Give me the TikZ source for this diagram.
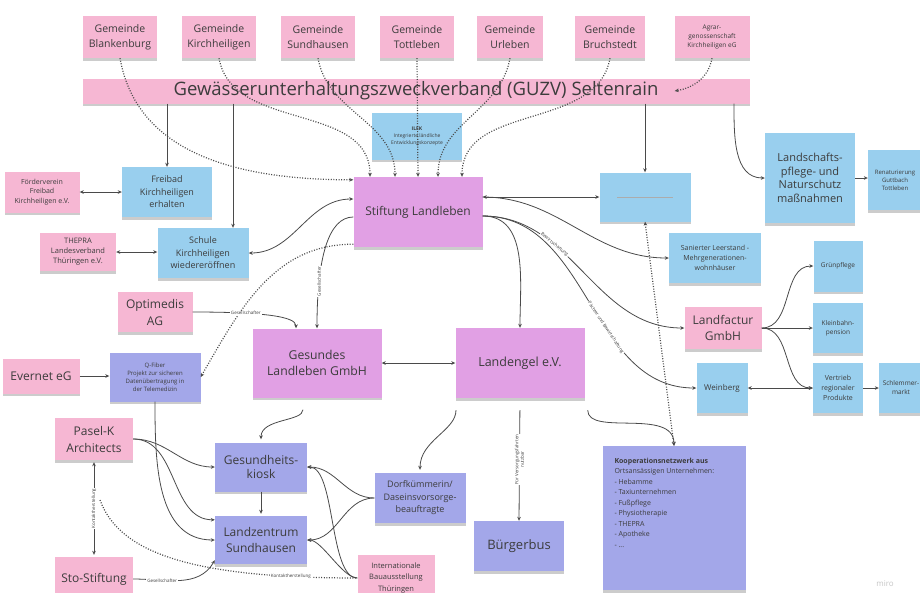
\documentclass[tikz,border=0pt]{standalone}
\usepackage{fontspec}
\setmainfont{Open Sans}
\usetikzlibrary{arrows.meta, positioning, shadows}

\definecolor{pinkfill}{HTML}{F6B7D3}
\definecolor{bluefill}{HTML}{99CFEE}
\definecolor{violetfill}{HTML}{E1A0E4}
\definecolor{perifill}{HTML}{A3A7E9}
\definecolor{txt}{HTML}{3C3C3C}
\definecolor{linec}{HTML}{4A4A4A}

\tikzset{
  fnt/.style 2 args={font=\fontsize{#1}{#2}\selectfont},
  card/.style={align=center, text=txt, inner sep=2pt,
    drop shadow={shadow xshift=0pt, shadow yshift=-2.5pt, opacity=0.4}},
  pinkcard/.style={card, fill=pinkfill},
  bluecard/.style={card, fill=bluefill},
  violetcard/.style={card, fill=violetfill},
  pericard/.style={card, fill=perifill},
  gem/.style={pinkcard, fnt={10.5}{15}, minimum width=74, minimum height=42},
  arr/.style={draw=linec, line width=0.8pt, ->},
  darr/.style={draw=linec, line width=0.8pt, <->},
  dots/.style={draw=linec, line width=1.2pt, dash pattern=on 1pt off 1.6pt, ->},
  ddots/.style={dots, <->},
  lbl/.style={fnt={4.5}{5.5}, text=txt, fill=white, inner sep=0.8pt},
}

\begin{document}
\begin{tikzpicture}[x=1pt, y=-1pt, >={Stealth[length=4pt,width=3.6pt]}]
  \useasboundingbox (0,0) rectangle (920,592);
  \fill[white] (0,0) rectangle (920,592);
  \clip (0,0) rectangle (920,592);

  % Gemeinden
  \node[gem] (blankenburg) at (120,37) {Gemeinde\\Blankenburg};
  \node[gem] (kirchheiligen) at (219,37) {Gemeinde\\Kirchheiligen};
  \node[gem] (sundhausen) at (318,37) {Gemeinde\\Sundhausen};
  \node[gem] (tottleben) at (417,37) {Gemeinde\\Tottleben};
  \node[gem, minimum width=66] (urleben) at (510,37) {Gemeinde\\Urleben};
  \node[gem, minimum width=70] (bruchstedt) at (610,37) {Gemeinde\\Bruchstedt};
  \node[pinkcard, fnt={6.5}{9}, minimum width=75, minimum height=42] (agrar) at (712,37) {Agrar-\\genossenschaft\\Kirchheiligen eG};

  % Zweckverband
  \node[pinkcard, fnt={18.5}{21}, minimum width=667, minimum height=25] (guzv) at (416,91) {Gewässerunterhaltungszweckverband (GUZV) Seltenrain};

  % obere Reihe
  \node[bluecard, fnt={5}{7}, minimum width=90, minimum height=47] (ilek) at (417,136) {\textbf{ILEK}\\Integrierte ländliche\\Entwicklungskonzepte};
  \node[violetcard, fnt={12}{14}, minimum width=129, minimum height=70] (stiftung) at (418,212) {Stiftung Landleben};
  \node[bluecard, minimum width=91, minimum height=49] (lsm) at (645,197) {};
  \draw[gray!65, line width=1pt] ([xshift=-28pt]lsm.center) -- ([xshift=28pt]lsm.center);
  \node[bluecard, fnt={11}{13.5}, minimum width=90, minimum height=90] (landschaft) at (810,178) {Landschafts-\\pflege- und\\Naturschutz\\maßnahmen};
  \node[bluecard, fnt={6}{8}, minimum width=54, minimum height=60] (renat) at (895,180) {Renaturierung\\Guttbach\\Tottleben};

  % links
  \node[pinkcard, fnt={7}{9.5}, minimum width=75, minimum height=41] (foerder) at (42,192) {Förderverein\\Freibad\\Kirchheiligen e.V.};
  \node[bluecard, fnt={9}{12.5}, minimum width=90, minimum height=50] (freibad) at (167,192) {Freibad\\Kirchheiligen\\erhalten};
  \node[pinkcard, fnt={7.5}{10}, minimum width=76, minimum height=38] (thepra) at (78,252) {THEPRA\\Landesverband\\Thüringen e.V.};
  \node[bluecard, fnt={9}{12.5}, minimum width=91, minimum height=50] (schule) at (203,253) {Schule\\Kirchheiligen\\wiedereröffnen};
  \node[pinkcard, fnt={12}{17}, minimum width=75, minimum height=40] (optimedis) at (155,312) {Optimedis\\AG};
  \node[pinkcard, fnt={12}{15}, minimum width=77, minimum height=35] (evernet) at (41,376) {Evernet eG};
  \node[pericard, fnt={6}{8}, minimum width=91, minimum height=49] (qfiber) at (155,377) {Q-Fiber\\Projekt zur sicheren\\Datenübertragung in\\der Telemedizin};
  \node[pinkcard, fnt={12}{17}, minimum width=78, minimum height=42] (pasel) at (94,439) {Pasel-K\\Architects};
  \node[pinkcard, fnt={12}{15}, minimum width=78, minimum height=44] (sto) at (94,579) {Sto-Stiftung};

  % Mitte
  \node[violetcard, fnt={12.2}{15.5}, minimum width=129, minimum height=69] (gesundes) at (317,363) {Gesundes\\Landleben GmbH};
  \node[violetcard, fnt={12.5}{14}, minimum width=129, minimum height=70] (landengel) at (520,363) {Landengel e.V.};
  \node[pericard, fnt={12}{14.5}, minimum width=92, minimum height=49] (kiosk) at (261,467) {Gesundheits-\\kiosk};
  \node[pericard, fnt={12}{15.5}, minimum width=92, minimum height=48] (landzentrum) at (261,540) {Landzentrum\\Sundhausen};
  \node[pericard, fnt={9}{12.5}, minimum width=91, minimum height=50] (dorf) at (420,498) {Dorfkümmerin/\\Daseinsvorsorge-\\beauftragte};
  \node[pericard, fnt={13}{15}, minimum width=90, minimum height=50] (buergerbus) at (519,546) {Bürgerbus};
  \node[pinkcard, fnt={7.5}{11.5}, minimum width=77, minimum height=46] (iba) at (396,578) {Internationale\\Bauausstellung\\Thüringen};
  \node[pericard, minimum width=143, minimum height=144] (koop) at (674,518) {};
  \node[anchor=north west, align=left, text=txt, fnt={7}{10.5}, inner sep=0pt] (kooptext) at ([xshift=12pt, yshift=-12pt]koop.north west) {\textbf{Kooperationsnetzwerk aus}\\Ortsansässigen Unternehmen:\\- Hebamme\\- Taxiunternehmen\\- Fußpflege\\- Physiotherapie\\- THEPRA\\- Apotheke\\- ...};

  % rechts
  \node[bluecard, fnt={7}{10}, minimum width=92, minimum height=50] (saniert) at (715,258) {Sanierter Leerstand -\\Mehrgenerationen-\\wohnhäuser};
  \node[pinkcard, fnt={12}{16}, minimum width=77, minimum height=42] (landfactur) at (723,328) {Landfactur\\GmbH};
  \node[bluecard, fnt={8}{10}, minimum width=51, minimum height=50] (weinberg) at (722,388) {Weinberg};
  \node[bluecard, fnt={6.5}{9}, minimum width=49, minimum height=51] (gruen) at (838,266) {Grünpflege};
  \node[bluecard, fnt={6.5}{9}, minimum width=50, minimum height=50] (kleinbahn) at (838,328) {Kleinbahn-\\pension};
  \node[bluecard, fnt={7}{10}, minimum width=50, minimum height=50] (vertrieb) at (838,388) {Vertrieb\\regionaler\\Produkte};
  \node[bluecard, fnt={6.5}{9}, minimum width=44, minimum height=50] (schlemmer) at (901,388) {Schlemmer-\\markt};

  \node[text=gray!45, fnt={8}{10}] (miro) at (885,584) {miro};

  % Gemeinden -> Stiftung (gepunktet)
  \draw[dots] (blankenburg.south) to[out=-80, in=180] ([yshift=-3pt]stiftung.north west);
  \draw[dots] (kirchheiligen.south) to[out=-80, in=90] ([xshift=-48pt]stiftung.north);
  \draw[dots] (sundhausen.south) to[out=-80, in=90] ([xshift=-23pt]stiftung.north);
  \draw[dots] (tottleben.south) -- (stiftung.north);
  \draw[dots] (urleben.south) to[out=-100, in=90] ([xshift=20pt]stiftung.north);
  \draw[dots] (bruchstedt.south) to[out=-100, in=90] ([xshift=44pt]stiftung.north);
  \draw[dots] (agrar.south) to[out=-100, in=10] ([xshift=-75pt]guzv.east);

  % GUZV
  \draw[arr] (guzv.south -| freibad.north) -- (freibad.north);
  \draw[arr] ([xshift=-183pt]guzv.south) -- ([xshift=30pt]schule.north);
  \draw[arr] (guzv.south -| lsm.north) -- (lsm.north);
  \draw[arr] ([xshift=318pt]guzv.south) to[out=-90, in=180] (landschaft.west);
  \draw[arr] (landschaft.east) -- (landschaft.east -| renat.west);

  % links
  \draw[darr] (foerder.east) -- (freibad.west);
  \draw[darr] (thepra.east) -- (thepra.east -| schule.west);
  \draw[darr] (schule.east) to[out=0, in=180] ([yshift=13pt]stiftung.west);
  \draw[arr] ([yshift=-5pt]stiftung.west) .. controls +(-25,0) and +(0,-70) .. (gesundes.north)
    node[lbl, pos=0.75, rotate=90] {Gesellschafter};
  \draw[dots] ([yshift=3pt]stiftung.south west) to[out=180, in=60] (qfiber.east);
  \draw[arr] (optimedis.east) .. controls +(70,0) and +(0,-12) .. ([xshift=-21pt]gesundes.north)
    node[lbl, pos=0.3] {Gesellschafter};
  \draw[arr] (evernet.east) -- (evernet.east -| qfiber.west);

  % Stiftung rechts
  \draw[darr] (stiftung.east |- lsm.west) -- (lsm.west);
  \draw[arr] (stiftung.east |- lsm.west) to[out=0, in=180] (saniert.west);
  \draw[arr] ([yshift=-4pt]stiftung.east) to[out=0, in=90] (landengel.north);
  \draw[arr] ([yshift=-4pt]stiftung.east) to[out=0, in=180]
    node[lbl, sloped, pos=0.33] {Bewirtschaftung} (landfactur.west);
  \draw[arr] ([yshift=-4pt]stiftung.east) to[out=0, in=180]
    node[lbl, sloped, pos=0.6] {Pächter und Bewirtschaftung} (weinberg.west);
  \draw[ddots] (lsm.south) -- (koop.north);

  % Landfactur
  \draw[arr] (landfactur.east) to[out=0, in=180] (gruen.west);
  \draw[arr] (landfactur.east) -- (kleinbahn.west);
  \draw[arr] (landfactur.east) to[out=0, in=180] (vertrieb.west);
  \draw[darr] (weinberg.east) -- (vertrieb.west);
  \draw[arr] (vertrieb.east) -- (schlemmer.west);

  % Mitte
  \draw[darr] (gesundes.east) -- (landengel.west);
  \draw[arr, shorten <=12pt, shorten >=3pt] ([xshift=-14pt]gesundes.south) to[out=-90, in=90] (kiosk.north);
  \draw[arr, shorten <=12pt, shorten >=3pt] ([xshift=-64pt]landengel.south) to[out=-90, in=90] (dorf.north);
  \draw[arr, shorten <=12pt] (landengel.south) -- (buergerbus.north)
    node[lbl, midway, rotate=90, align=center] {Für Versorgungsfahrten\\nutzbar};
  \draw[arr, shorten <=12pt] ([xshift=3pt]landengel.south east) to[out=-90, in=90] (koop.north);

  % unten links
  \draw[arr, shorten >=2pt] (kiosk.south) -- (landzentrum.north);
  \draw[arr] (pasel.east) to[out=0, in=180] (kiosk.west);
  \draw[arr] (pasel.east) to[out=0, in=180] ([yshift=-4pt]landzentrum.north west);
  \draw[arr] (qfiber.south) to[out=-90, in=180] (landzentrum.west);
  \draw[arr] (dorf.west) to[out=180, in=0] (kiosk.east);
  \draw[arr] (dorf.west) to[out=180, in=0] (landzentrum.east);
  \draw[arr] (iba.west) to[out=180, in=0, looseness=0.6] (kiosk.east);
  \draw[arr] (iba.west) to[out=180, in=0, looseness=0.6] (landzentrum.east);
  \draw[darr, shorten <=2pt, shorten >=2pt] (pasel.south) -- (sto.north)
    node[lbl, midway, rotate=90] {Kontaktherstellung};
  \coordinate (kstart) at (100,500);
  \draw[dots, -] (kstart) .. controls +(20,55) and +(-160,0) .. (iba.west)
    node[lbl, pos=0.85] {Kontaktherstellung};
  \draw[arr] (sto.east) to[out=0, in=-120]
    node[lbl, pos=0.3] {Gesellschafter} ([yshift=4pt]landzentrum.south west);
\end{tikzpicture}
\end{document}
